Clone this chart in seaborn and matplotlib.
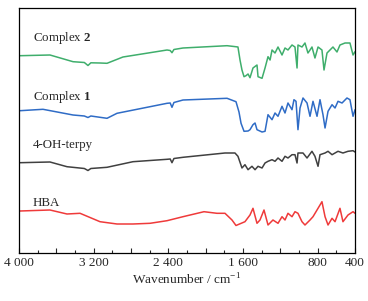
import numpy as np
import pandas as pd
import matplotlib
matplotlib.use("Agg")
import matplotlib.pyplot as plt
import seaborn as sns

# wavenumbers (cm-1) and stacked transmittance (arbitrary units, offset per trace)
wn_c2 = [3989, 3668, 3421, 3300, 3261, 3230, 3132, 3057, 2886, 2414, 2380, 2361, 2340,
         2243, 1771, 1696, 1654, 1632, 1611, 1589, 1568, 1546, 1525, 1493, 1450, 1439,
         1396, 1364, 1332, 1310, 1289, 1257, 1225, 1182, 1150, 1118, 1075, 1043, 1021,
         1011, 968, 936, 904, 882, 861, 829, 796, 754, 732, 700, 668, 636, 593, 561,
         507, 454, 421, 400]
t_c2 = [55.7, 55, 61.7, 62.5, 65.5, 62.8, 63, 63.3, 57, 50, 50.5, 52.7, 49.5,
        48, 45.7, 46.5, 47, 60, 70, 76.7, 75.7, 74, 77.7, 68, 65, 76.7,
        78.3, 68, 56.7, 60, 50, 53, 47, 55, 48, 50, 45, 47, 68,
        45, 47, 43, 53, 50, 47, 58, 47, 50, 70, 53, 50, 47, 52,
        45, 43, 43, 55, 51.7]

wn_c1 = [3989, 3743, 3421, 3300, 3261, 3230, 3057, 2950, 2414, 2380, 2361, 2340, 2243,
         1771, 1675, 1643, 1621, 1589, 1546, 1525, 1493, 1471, 1450, 1396, 1364, 1332,
         1289, 1257, 1225, 1182, 1150, 1118, 1075, 1054, 1032, 1011, 989, 957, 914,
         882, 850, 807, 775, 743, 721, 689, 646, 614, 582, 539, 486, 454, 421, 400]
t_c1 = [110.7, 109.3, 115, 116, 117.5, 116, 118.3, 113.3, 103.3, 103, 107.3, 102.5, 100,
        98.3, 101.7, 112, 123.3, 131.3, 131, 129.7, 124.7, 123, 129.7, 132, 131.3, 114.7,
        119.7, 113, 116.3, 106.3, 113, 103, 109.7, 99.7, 101.3, 129.7, 108, 98, 103,
        116.3, 101.3, 116.3, 99.7, 114.7, 128, 111.3, 104.7, 108, 101.3, 103, 98, 99.7, 116.3, 109.7]

wn_oh = [3989, 3668, 3486, 3300, 3261, 3230, 3057, 2779, 2414, 2380, 2361, 2340, 2243,
         1793, 1686, 1654, 1611, 1579, 1546, 1504, 1471, 1439, 1396, 1364, 1332, 1289,
         1257, 1225, 1182, 1150, 1118, 1075, 1043, 1021, 1011, 957, 914, 861, 829,
         796, 775, 721, 689, 646, 582, 529, 475, 421, 400]
t_oh = [162.7, 162, 166.7, 168.5, 170.5, 168.5, 167.3, 161.7, 159.3, 159, 162.7, 158.5, 157.3,
        153, 153, 156.3, 168, 164.7, 169.7, 166.3, 169.7, 166.3, 168, 163, 161.3, 159.7,
        161.3, 158, 161.3, 156.3, 158, 154.7, 154.7, 163, 153, 153, 158, 151.3, 156.3,
        166.3, 154.7, 153, 151.3, 154.7, 151.3, 153, 151.3, 150.7, 152]

wn_hba = [3989, 3668, 3486, 3346, 3132, 2950, 2779, 2596, 2414, 2243, 2018, 1879, 1793,
          1718, 1675, 1579, 1525, 1493, 1450, 1418, 1375, 1332, 1279, 1225, 1182, 1150,
          1118, 1075, 1043, 1011, 968, 936, 882, 850, 807, 775, 754, 721, 689, 646,
          614, 561, 529, 475, 421, 400]
t_hba = [211, 210, 214, 213.3, 221.7, 224, 224, 223.3, 220.7, 216.7, 211.7, 213.3, 213.3,
         220, 225.5, 221.7, 215, 208.3, 223.3, 220, 210, 225, 220, 223.3, 216.7, 220,
         213.3, 216.7, 211.7, 213.3, 221.7, 225, 220, 216.7, 210, 205, 201.7, 216.7, 225, 218.3,
         221.7, 208.3, 221.7, 215, 211.7, 213.3]

names = ["Complex 2", "Complex 1", "4-OH-terpy", "HBA"]
labels = [r"Complex $\mathbf{2}$", r"Complex $\mathbf{1}$", "4-OH-terpy", "HBA"]
label_y = [215, 156, 108, 50]
colors = ["#3fae6c", "#2f6cc6", "#404040", "#ef3a3a"]

tick_vals = [4000, 3200, 2400, 1600, 800, 400]
tick_text = ["4 000", "3 200", "2 400", "1 600", "800", "400"]

frames = []
for n, w, t in zip(names, [wn_c2, wn_c1, wn_oh, wn_hba], [t_c2, t_c1, t_oh, t_hba]):
    # y stored top-down as read, convert to height above baseline
    frames.append(pd.DataFrame({"wn": w, "T": 253 - np.array(t), "sample": n}))
df = pd.concat(frames, ignore_index=True)

sns.set_style("ticks")
plt.rcParams["font.family"] = ["Liberation Serif", "DejaVu Serif"]
plt.rcParams["mathtext.fontset"] = "custom"
plt.rcParams["mathtext.rm"] = "Liberation Serif"
plt.rcParams["mathtext.bf"] = "Liberation Serif:bold"

fig = plt.figure(figsize=(3.68, 3.01), dpi=100)
ax = fig.add_axes([19 / 368, 48 / 301, 336 / 368, 245 / 301])

sns.lineplot(data=df, x="wn", y="T", hue="sample", palette=dict(zip(names, colors)),
             sort=False, estimator=None, linewidth=1.1, legend=False, ax=ax)

for lab, y in zip(labels, label_y):
    ax.text(3850, y, lab, fontsize=9.3, va="center", ha="left")

ax.set_xlim(4000, 400)
ax.set_ylim(0, 245)
ax.set_yticks([])
ax.set_ylabel("")
ax.set_xticks(np.arange(4000, 399, -400))
ax.set_xticklabels([tick_text[tick_vals.index(v)] if v in tick_vals else ""
                    for v in np.arange(4000, 399, -400)])
ax.set_xticks(np.arange(3800, 399, -400), minor=True)
ax.tick_params(axis="x", which="major", direction="in", length=3.5, width=0.8,
               labelsize=9.5, pad=3)
ax.tick_params(axis="x", which="minor", direction="in", length=2, width=0.8)
ax.set_xlabel("Wavenumber / cm$^{-1}$", fontsize=9.5, labelpad=2)
for s in ax.spines.values():
    s.set_linewidth(0.9)
    s.set_color("black")

fig.savefig("out.png", dpi=100)
